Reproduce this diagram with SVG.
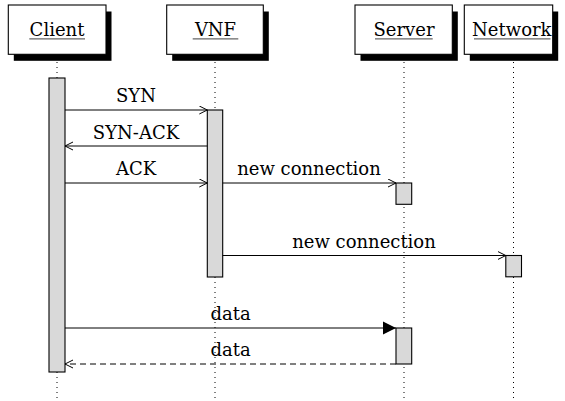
<svg xmlns="http://www.w3.org/2000/svg" width="565" height="401" viewBox="0 0 565 401">
<style>
  .box{fill:#fff;stroke:#000;stroke-width:1.1}
  .shadow{fill:#000}
  .name{font-family:"DejaVu Serif","Liberation Serif",serif;font-size:18px;fill:#000;text-anchor:middle}
  .ul{stroke:#666;stroke-width:1.2}
  .life{stroke:#000;stroke-width:1;stroke-dasharray:1 4}
  .act{fill:#d9d9d9;stroke:#000;stroke-width:1.1}
  .msg{stroke:#000;stroke-width:1;fill:none}
  .ret{stroke:#000;stroke-width:1;fill:none;stroke-dasharray:6 4}
  .lbl{font-family:"DejaVu Serif","Liberation Serif",serif;font-size:18px;fill:#000;text-anchor:middle}
</style>
<defs>
  <marker id="open" markerUnits="userSpaceOnUse" markerWidth="10" markerHeight="10" refX="8" refY="4.5" orient="auto" viewBox="0 0 10 10">
    <path d="M0,0.5 L8,4.5 L0,8.5" fill="none" stroke="#000" stroke-width="1"/>
  </marker>
  <marker id="filled" markerUnits="userSpaceOnUse" markerWidth="14" markerHeight="14" refX="13" refY="7" orient="auto" viewBox="0 0 14 14">
    <path d="M0,0.5 L13,7 L0,13.5 z" fill="#000"/>
  </marker>
</defs>

<g id="lifelines">
  <line class="life" x1="57" y1="62" x2="57" y2="401"/>
  <line class="life" x1="215" y1="62" x2="215" y2="401"/>
  <line class="life" x1="404" y1="62" x2="404" y2="401"/>
  <line class="life" x1="513.5" y1="62" x2="513.5" y2="401"/>
</g>

<g id="client">
  <rect class="shadow" x="13.8" y="11.5" width="97.7" height="49.3"/>
  <rect class="box" x="8.3" y="5" width="97.7" height="49.3"/>
  <text class="name" x="57" y="36">Client</text>
  <line class="ul" x1="29.3" y1="38.8" x2="85" y2="38.8"/>
  <rect class="act" x="49" y="78" width="16" height="294"/>
</g>

<g id="vnf">
  <rect class="shadow" x="172.2" y="11.5" width="96.6" height="49.3"/>
  <rect class="box" x="166.7" y="5" width="96.6" height="49.3"/>
  <text class="name" x="215.5" y="36">VNF</text>
  <line class="ul" x1="192.7" y1="38.8" x2="238.3" y2="38.8"/>
  <rect class="act" x="207.3" y="110" width="15.4" height="167"/>
</g>

<g id="server">
  <rect class="shadow" x="360.5" y="11.5" width="97.3" height="49.3"/>
  <rect class="box" x="355" y="5" width="97.3" height="49.3"/>
  <text class="name" x="404" y="36">Server</text>
  <line class="ul" x1="375" y1="38.8" x2="432.7" y2="38.8"/>
  <rect class="act" x="396" y="183" width="15.7" height="21.3"/>
  <rect class="act" x="396" y="328" width="15.7" height="36"/>
</g>

<g id="network">
  <rect class="shadow" x="469.8" y="11.5" width="88.4" height="49.3"/>
  <rect class="box" x="464.3" y="5" width="88.4" height="49.3"/>
  <text class="name" x="511.8" y="36">Network</text>
  <line class="ul" x1="474" y1="38.8" x2="550.5" y2="38.8"/>
  <rect class="act" x="505.8" y="255.5" width="15.7" height="21.3"/>
</g>

<g id="connectors">
  <line class="msg" x1="65" y1="110" x2="207.3" y2="110" marker-end="url(#open)"/>
  <text class="lbl" x="136" y="102">SYN</text>

  <line class="msg" x1="207.3" y1="146" x2="65" y2="146" marker-end="url(#open)"/>
  <text class="lbl" x="136" y="139">SYN-ACK</text>

  <line class="msg" x1="65" y1="183" x2="207.3" y2="183" marker-end="url(#open)"/>
  <text class="lbl" x="136" y="175">ACK</text>

  <line class="msg" x1="222.7" y1="183" x2="396" y2="183" marker-end="url(#open)"/>
  <text class="lbl" x="309" y="175">new connection</text>

  <line class="msg" x1="222.7" y1="255.5" x2="505.8" y2="255.5" marker-end="url(#open)"/>
  <text class="lbl" x="364" y="248">new connection</text>

  <line class="msg" x1="65" y1="328" x2="396" y2="328" marker-end="url(#filled)"/>
  <text class="lbl" x="230.5" y="319.5">data</text>

  <line class="ret" x1="396" y1="364" x2="65" y2="364" marker-end="url(#open)"/>
  <text class="lbl" x="230.5" y="356">data</text>
</g>
</svg>
